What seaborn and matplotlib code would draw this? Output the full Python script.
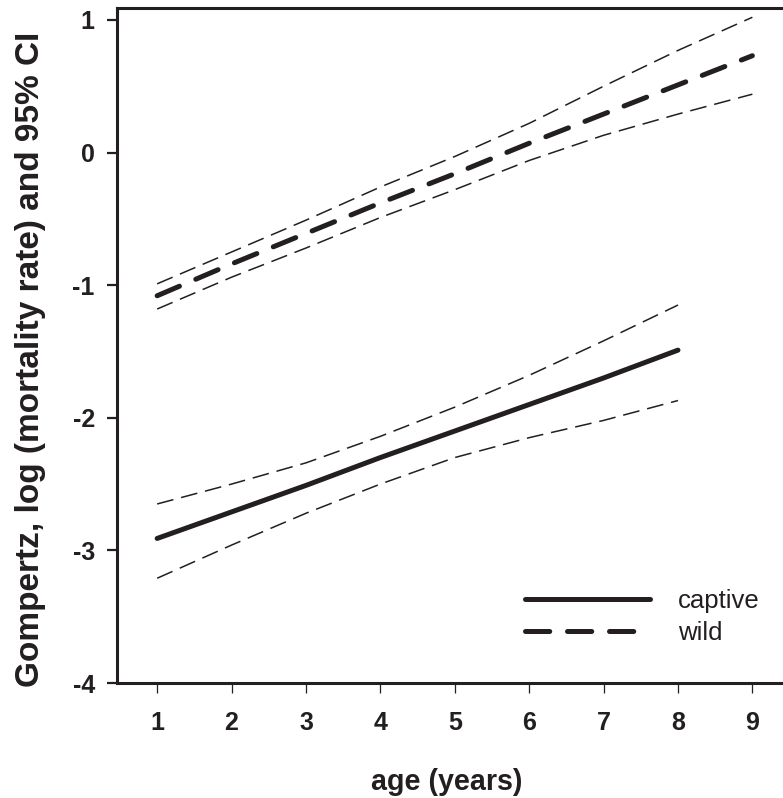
import matplotlib
matplotlib.use("Agg")
import matplotlib.pyplot as plt
import seaborn as sns

# ---------------- DATA ----------------
age_captive = [1, 2, 3, 4, 5, 6, 7, 8]
captive_fit = [-2.91, -2.71, -2.51, -2.30, -2.10, -1.90, -1.70, -1.49]
captive_upper = [-2.65, -2.50, -2.34, -2.14, -1.92, -1.68, -1.42, -1.15]
captive_lower = [-3.21, -2.96, -2.72, -2.50, -2.30, -2.15, -2.02, -1.87]

age_wild = [1, 2, 3, 4, 5, 6, 7, 8, 9]
wild_fit = [-1.08, -0.84, -0.61, -0.38, -0.16, 0.07, 0.29, 0.51, 0.73]
wild_upper = [-0.99, -0.75, -0.51, -0.26, -0.03, 0.22, 0.50, 0.77, 1.02]
wild_lower = [-1.18, -0.94, -0.72, -0.49, -0.28, -0.06, 0.13, 0.29, 0.44]

x_ticks = [1, 2, 3, 4, 5, 6, 7, 8, 9]
y_ticks = [-4, -3, -2, -1, 0, 1]

# ---------------- STYLE ----------------
sns.set_style("ticks")
plt.rcParams["font.family"] = ["Liberation Sans", "DejaVu Sans"]
plt.rcParams["axes.unicode_minus"] = False

INK = "#231f20"

fig = plt.figure(figsize=(7.83, 7.98), dpi=100)
# right edge of the frame falls just outside the picture, as in the original
ax = fig.add_axes([0.1494, 0.1441, 0.8685, 0.8459])

thin = dict(color=INK, linewidth=1.1, linestyle=(0, (11, 5.2)), ax=ax)

# confidence bands
sns.lineplot(x=age_captive, y=captive_upper, **thin)
sns.lineplot(x=age_captive, y=captive_lower, **thin)
sns.lineplot(x=age_wild, y=wild_upper, **thin)
sns.lineplot(x=age_wild, y=wild_lower, **thin)

# fitted lines
sns.lineplot(x=age_captive, y=captive_fit, color=INK, linewidth=3.6,
             solid_capstyle="round", label="captive", ax=ax)
sns.lineplot(x=age_wild, y=wild_fit, color=INK, linewidth=3.6,
             linestyle=(0, (4.85, 3.55)), dash_capstyle="round",
             label="wild", ax=ax)

ax.set_xlim(0.46, 9.60)
ax.set_ylim(-4, 1.09)
ax.set_xticks(x_ticks)
ax.set_yticks(y_ticks)

for side in ["left", "bottom", "top", "right"]:
    ax.spines[side].set_linewidth(2.2)
    ax.spines[side].set_color(INK)

ax.tick_params(axis="y", direction="out", length=7, width=1.6, pad=9,
               colors=INK, labelsize=18)
ax.tick_params(axis="x", direction="out", length=7, width=0.9, pad=13,
               colors=INK, labelsize=18)
for lab in ax.get_xticklabels() + ax.get_yticklabels():
    lab.set_fontweight("bold")

ax.set_xlabel("age (years)", fontsize=20.6, fontweight="bold", color=INK)
ax.set_ylabel("Gompertz, log (mortality rate) and 95% CI", fontsize=24,
              fontweight="bold", color=INK)
ax.xaxis.set_label_coords(0.4853, -0.126)
ax.yaxis.set_label_coords(-0.104, 0.48)

handles, labels = ax.get_legend_handles_labels()
leg = ax.legend(handles, labels, loc="center left",
                bbox_to_anchor=(0.6705, 0.2268), bbox_transform=fig.transFigure,
                frameon=False, fontsize=18.5, handlelength=4.86,
                handletextpad=1.09, labelspacing=0.31,
                borderpad=0, borderaxespad=0)
for t in leg.get_texts():
    t.set_color(INK)

fig.savefig("out.png", dpi=100)
